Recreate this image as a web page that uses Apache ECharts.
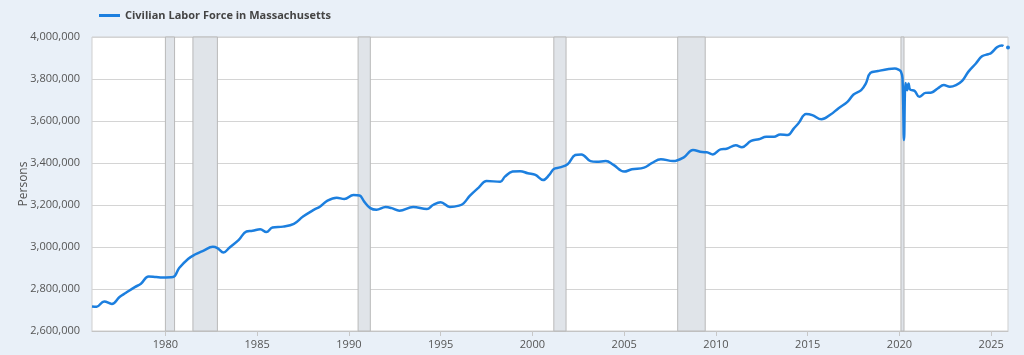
<!DOCTYPE html>
<html>
<head>
<meta charset="utf-8">
<script src="https://cdn.jsdelivr.net/npm/echarts@6/dist/echarts.min.js"></script>
<style>
html,body{margin:0;padding:0;background:#e9f0f8;}
#c{width:1024px;height:355px;}
</style>
</head>
<body>
<div id="c"></div>
<script>
// Observation months (YYYY-MM) and values (persons)
const months = [
 '1976-01','1976-04','1976-09','1977-02','1977-07','1977-11','1978-05','1978-09','1979-02','1979-07','1979-11',
 '1980-06','1980-10','1981-04','1981-08','1982-02','1982-08','1982-11','1983-03','1983-07','1984-01','1984-06','1984-10',
 '1985-03','1985-07','1985-11','1986-06','1987-01','1987-07','1988-02','1988-06','1988-11','1989-05','1989-10',
 '1990-04','1990-08','1990-11','1991-03','1991-07','1992-01','1992-05','1992-10','1993-07','1994-04','1994-08',
 '1995-01','1995-07','1996-01','1996-04','1996-08','1997-02','1997-07','1998-04','1998-07','1998-12','1999-05','1999-10',
 '2000-03','2000-08','2000-12','2001-03','2001-07','2001-12','2002-05','2002-09','2003-03','2003-07','2004-01','2004-06',
 '2005-01','2005-06','2006-02','2006-07','2007-01','2007-09','2008-04','2008-10','2009-04','2009-07','2009-11',
 '2010-04','2010-08','2011-02','2011-06','2011-12','2012-05','2012-10','2013-03','2013-07','2013-12','2014-04','2014-07',
 '2014-12','2015-04','2015-10','2016-04','2016-09','2017-03','2017-07','2017-12','2018-03','2018-06','2018-11','2019-06',
 '2019-10','2020-01','2020-02','2020-03','2020-04','2020-05','2020-06','2020-07','2020-08','2020-11',
 '2021-02','2021-06','2021-10','2022-02','2022-06','2022-10','2023-02','2023-06','2023-10','2024-03','2024-07','2024-11',
 '2025-01','2025-05','2025-08','2025-09','2025-10','2025-11','2025-12'
];
const laborForce = [
 2717000,2716000,2741000,2729000,2762000,2781000,2809000,2825000,2860000,2857000,2855000,
 2857000,2900000,2944000,2963000,2983000,3001000,2995000,2974000,2998000,3034000,3074000,3077000,
 3085000,3071000,3093000,3097000,3110000,3145000,3177000,3192000,3221000,3235000,3228000,
 3248000,3245000,3216000,3185000,3177000,3190000,3185000,3173000,3190000,3181000,3200000,
 3213000,3191000,3197000,3208000,3243000,3284000,3314000,3311000,3335000,3359000,3361000,3351000,
 3343000,3319000,3343000,3371000,3379000,3394000,3438000,3441000,3409000,3406000,3409000,3391000,
 3359000,3370000,3378000,3399000,3418000,3409000,3427000,3462000,3452000,3451000,3441000,
 3465000,3468000,3484000,3475000,3505000,3513000,3525000,3525000,3536000,3533000,3565000,3589000,
 3633000,3628000,3608000,3631000,3660000,3691000,3726000,3747000,3778000,3829000,3838000,3848000,
 3850000,3842000,3835000,3805000,3509000,3781000,3747000,3778000,3750000,3743000,
 3715000,3734000,3736000,3755000,3771000,3763000,3771000,3791000,3834000,3874000,3908000,3918000,
 3924000,3952000,3960000,3957000,null,null,3950000
];
// Recession periods (start, end)
const recessions = [
 ['1980-01','1980-07'],['1981-07','1982-11'],['1990-07','1991-03'],
 ['2001-03','2001-11'],['2007-12','2009-06'],['2020-02','2020-04']
];
const yearTicks = [1980,1985,1990,1995,2000,2005,2010,2015,2020,2025];
const seriesName = 'Civilian Labor Force in Massachusetts';
const yAxisName = 'Persons';

function dec(m){ const p = m.split('-'); return (+p[0]) + (+p[1]-1)/12; }

const data = months.map((m,i)=>{
  const v = laborForce[i];
  const prev = laborForce[i-1], next = laborForce[i+1];
  if (v != null && (prev === null) && (next === undefined || next === null)) {
    return {value:[dec(m), v], symbol:'circle', symbolSize:4};
  }
  return [dec(m), v];
});

const chart = echarts.init(document.getElementById('c'), null, {renderer:'canvas'});
const font = '"Open Sans", "Noto Sans", sans-serif';
chart.setOption({
  animation:false,
  backgroundColor:'#e9f0f8',
  textStyle:{fontFamily:font},
  legend:{
    show:true, left:94, top:5, itemWidth:21, itemHeight:3, itemGap:4,
    data:[{name:seriesName, icon:'rect'}],
    textStyle:{fontFamily:font, fontSize:11, fontWeight:'bold', color:'#444'}
  },
  grid:{left:92, right:16, top:37, bottom:24, show:true, backgroundColor:'#ffffff', borderColor:'#cfcfcf', borderWidth:1},
  xAxis:{
    type:'value', min:dec('1976-01'), max:dec('2025-12'),
    splitLine:{show:false},
    axisLine:{show:true, lineStyle:{color:'#c4c4c4'}},
    axisTick:{show:true, customValues:yearTicks, length:5, lineStyle:{color:'#c8c8c8'}},
    axisLabel:{customValues:yearTicks, formatter:v=>String(Math.round(v)), color:'#555', fontSize:11, margin:8, fontFamily:font}
  },
  yAxis:{
    type:'value', min:2600000, max:4000000, interval:200000,
    name:yAxisName, nameLocation:'middle', nameGap:62, nameMoveOverlap:false,
    nameTextStyle:{color:'#555', fontSize:12, fontFamily:font},
    axisLine:{show:false}, axisTick:{show:false},
    splitLine:{lineStyle:{color:'#d4d4d4', width:1}},
    axisLabel:{formatter:v=>v.toLocaleString('en-US'), color:'#555', fontSize:11, margin:12, fontFamily:font}
  },
  series:[{
    name:seriesName, type:'line', data:data,
    symbol:'none', showSymbol:true, showAllSymbol:true,
    smooth:0.4, connectNulls:false,
    lineStyle:{color:'#1c7fdf', width:2.5},
    itemStyle:{color:'#1c7fdf'},
    markArea:{
      silent:true,
      itemStyle:{color:'#e0e4e9', borderColor:'#b9b9b9', borderWidth:1},
      data:recessions.map(r=>[{xAxis:dec(r[0])},{xAxis:dec(r[1])}])
    }
  }]
});
</script>
</body>
</html>
